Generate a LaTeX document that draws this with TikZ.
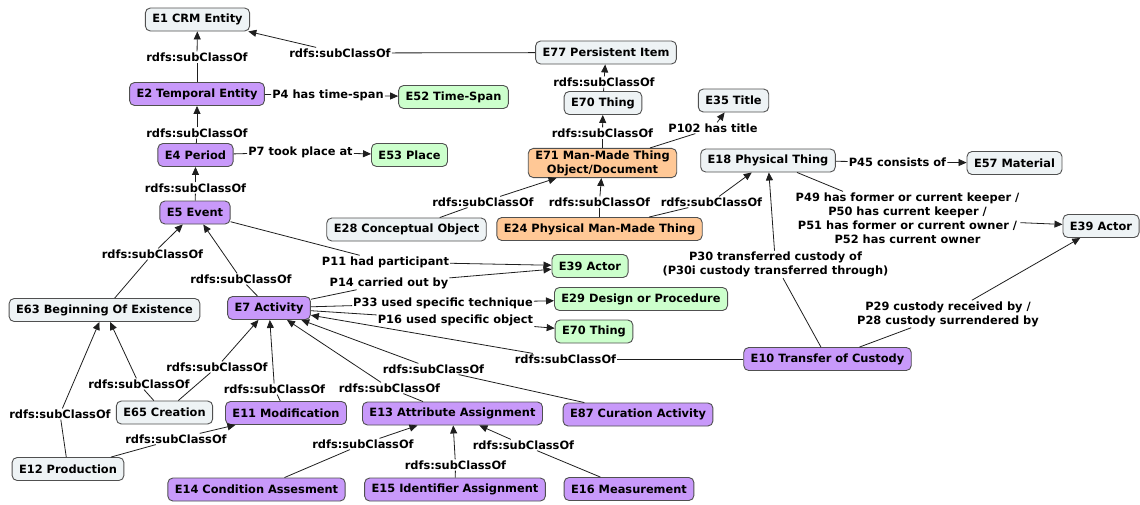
\documentclass[tikz,border=0pt]{standalone}
\usepackage{fontspec}
\setmainfont{DejaVu Sans}
\usetikzlibrary{arrows.meta}
\definecolor{gfill}{RGB}{238,243,245}
\definecolor{pfill}{RGB}{200,153,250}
\definecolor{grfill}{RGB}{204,255,204}
\definecolor{ofill}{RGB}{255,200,150}
\definecolor{bordc}{RGB}{80,80,80}
\definecolor{linec}{RGB}{30,30,30}
\newcommand{\lblfont}{\fontsize{11.4}{14}\selectfont\bfseries}
\tikzset{
  cbox/.style={draw=bordc, line width=0.9pt, rounded corners=5pt, minimum height=23pt,
    inner xsep=7pt, inner ysep=2pt, font=\lblfont, align=center},
  gbox/.style={cbox, fill=gfill},
  pbox/.style={cbox, fill=pfill},
  grbox/.style={cbox, fill=grfill},
  obox/.style={cbox, fill=ofill},
  lab/.style={inner sep=1pt, font=\lblfont, align=center},
  con/.style={draw=linec, line width=0.8pt},
  arr/.style={con, -{Triangle[length=8pt,width=7pt]}},
}
\begin{document}
\begin{tikzpicture}[x=1pt,y=-1pt]
\useasboundingbox (0,0) rectangle (1140,504);
% nodes
\node[gbox]  (E1)  at (197.5,19.5) {E1 CRM Entity};
\node[gbox]  (E77) at (606,52.5) {E77 Persistent Item};
\node[pbox]  (E2)  at (197,94) {E2 Temporal Entity};
\node[grbox] (E52) at (453.5,97) {E52 Time-Span};
\node[gbox]  (E70a) at (603,103) {E70 Thing};
\node[gbox]  (E35) at (733.5,100.5) {E35 Title};
\node[pbox]  (E4)  at (195.5,155) {E4 Period};
\node[grbox] (E53) at (409.5,155) {E53 Place};
\node[obox]  (E71) at (602.5,163) {E71 Man-Made Thing\\Object/Document};
\node[gbox]  (E18) at (768,160.5) {E18 Physical Thing};
\node[gbox]  (E57) at (1014.5,163) {E57 Material};
\node[pbox]  (E5)  at (195,212.5) {E5 Event};
\node[gbox]  (E28) at (406.5,229.5) {E28 Conceptual Object};
\node[obox]  (E24) at (599.5,229) {E24 Physical Man-Made Thing};
\node[gbox]  (E39r) at (1101,226) {E39 Actor};
\node[grbox] (E39g) at (590,266) {E39 Actor};
\node[gbox]  (E63) at (104.5,310) {E63 Beginning Of Existence};
\node[pbox]  (E7)  at (269,308) {E7 Activity};
\node[grbox] (E29) at (641,299) {E29 Design or Procedure};
\node[grbox] (E70g) at (594,331.5) {E70 Thing};
\node[pbox]  (E10) at (827.5,359) {E10 Transfer of Custody};
\node[gbox]  (E65) at (164.5,412.5) {E65 Creation};
\node[pbox]  (E11) at (286,413) {E11 Modification};
\node[pbox]  (E13) at (452.5,413.5) {E13 Attribute Assignment};
\node[pbox]  (E87) at (638,414.5) {E87 Curation Activity};
\node[gbox]  (E12) at (68,469) {E12 Production};
\node[pbox]  (E14) at (256.5,489.5) {E14 Condition Assesment};
\node[pbox]  (E15) at (455,489.5) {E15 Identifier Assignment};
\node[pbox]  (E16) at (629,489) {E16 Measurement};
% labels
\node[lab] (l1)  at (197,57) {rdfs:subClassOf};
\node[lab] (l2)  at (340,53) {rdfs:subClassOf};
\node[lab] (l3)  at (328,95) {P4 has time-span};
\node[lab] (l4)  at (197,133) {rdfs:subClassOf};
\node[lab] (l5)  at (300.5,152) {P7 took place at};
\node[lab] (l6)  at (195.5,188) {rdfs:subClassOf};
\node[lab] (l7)  at (604,82) {rdfs:subClassOf};
\node[lab] (l8)  at (602.5,133) {rdfs:subClassOf};
\node[lab] (l9)  at (713,128) {P102 has title};
\node[lab] (l10) at (897.5,162) {P45 consists of};
\node[lab] (l11) at (483,202) {rdfs:subClassOf};
\node[lab] (l12) at (599.5,202) {rdfs:subClassOf};
\node[lab] (l13) at (711.5,202) {rdfs:subClassOf};
\node[lab] (l14) at (907.5,218) {P49 has former or current keeper /\\P50 has current keeper /\\P51 has former or current owner /\\P52 has current owner};
\node[lab] (l15) at (775.5,264.5) {P30 transferred custody of\\(P30i custody transferred through)};
\node[lab] (l16) at (948,314) {P29 custody received by /\\P28 custody surrendered by};
\node[lab] (l17) at (385.5,262) {P11 had participant};
\node[lab] (l18) at (389,283) {P14 carried out by};
\node[lab] (l19) at (443,303) {P33 used specific technique};
\node[lab] (l20) at (455.5,320) {P16 used specific object};
\node[lab] (l21) at (565.5,359) {rdfs:subClassOf};
\node[lab] (l22) at (241,279) {rdfs:subClassOf};
\node[lab] (l23) at (152.5,254) {rdfs:subClassOf};
\node[lab] (l24) at (139,384) {rdfs:subClassOf};
\node[lab] (l25) at (60,414) {rdfs:subClassOf};
\node[lab] (l26) at (217,367) {rdfs:subClassOf};
\node[lab] (l27) at (274.5,389) {rdfs:subClassOf};
\node[lab] (l28) at (389.5,388) {rdfs:subClassOf};
\node[lab] (l29) at (433.5,369) {rdfs:subClassOf};
\node[lab] (l30) at (176,439) {rdfs:subClassOf};
\node[lab] (l31) at (363,444) {rdfs:subClassOf};
\node[lab] (l32) at (455.5,465) {rdfs:subClassOf};
\node[lab] (l33) at (523.5,445) {rdfs:subClassOf};
% connectors
\foreach \s/\l/\t in {E2/l1/E1, E77/l2/E1, E2/l3/E52, E4/l4/E2, E4/l5/E53, E5/l6/E4,
  E70a/l7/E77, E71/l8/E70a, E71/l9/E35, E18/l10/E57, E28/l11/E71, E24/l12/E71,
  E24/l13/E18, E18/l14/E39r, E10/l15/E18, E10/l16/E39r, E5/l17/E39g, E7/l18/E39g,
  E7/l19/E29, E7/l20/E70g, E10/l21/E7, E7/l22/E5, E63/l23/E5, E65/l24/E63,
  E12/l25/E63, E65/l26/E7, E11/l27/E7, E13/l28/E7, E87/l29/E7, E12/l30/E11,
  E14/l31/E13, E15/l32/E13, E16/l33/E13}
{
  \draw[con] (\s) -- (\l);
  \draw[arr] (\l) -- (\t);
}
\end{tikzpicture}
\end{document}
